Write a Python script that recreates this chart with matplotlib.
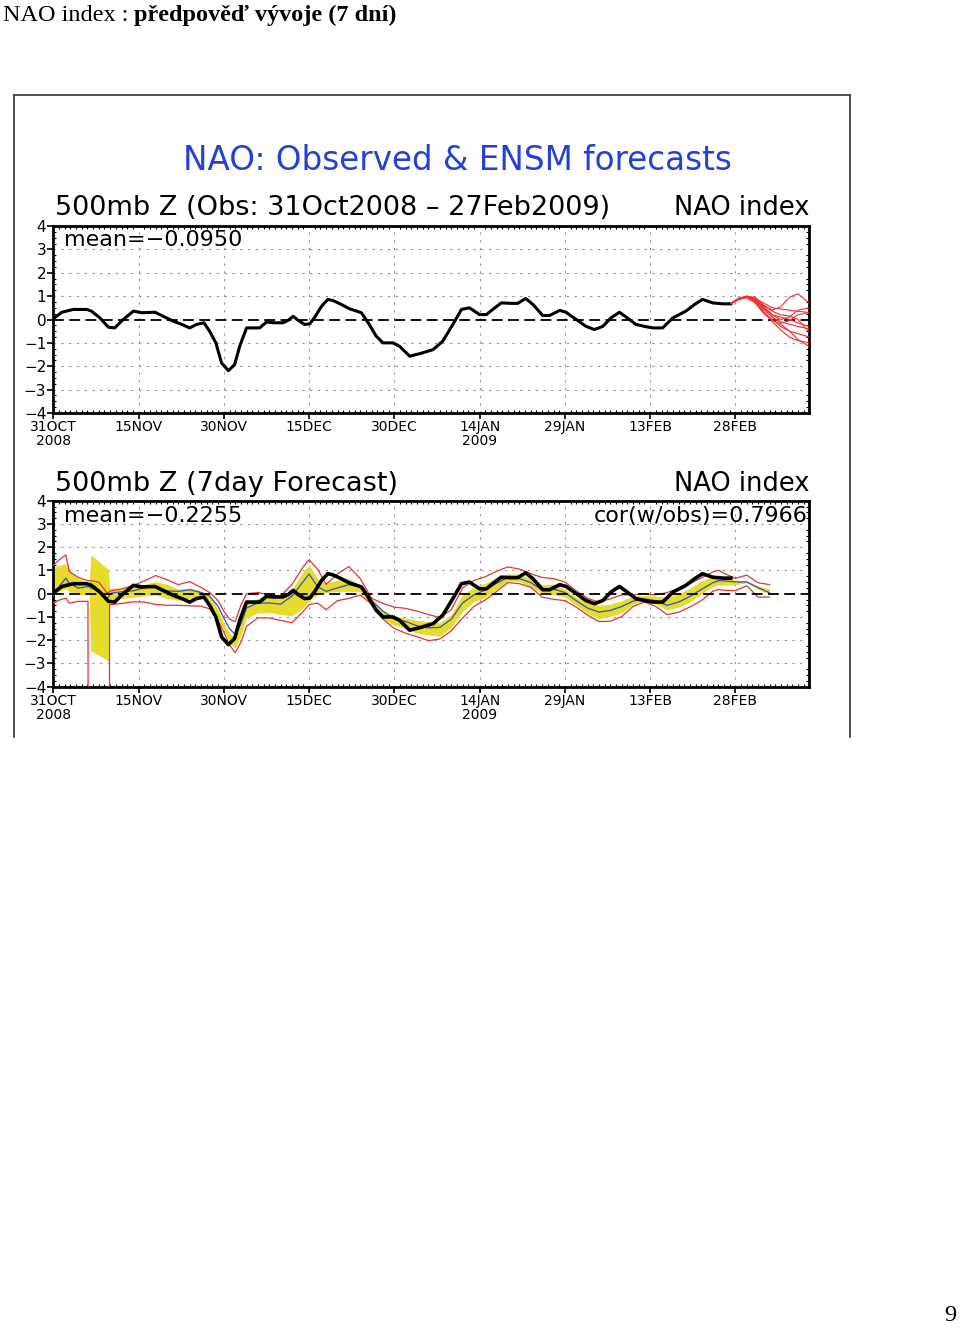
import numpy as np
import matplotlib.pyplot as plt
from matplotlib.lines import Line2D

W, H = 960, 1328

# observed NAO index (days since 31 Oct 2008)
obs_day = [0, 1.5, 3.5, 5.9, 6.7, 8.2, 9.7, 10.8, 12.3, 14.1, 15.5, 17.9, 19.3, 21.1, 22.6,
           24.0, 25.2, 26.5, 27.5, 28.6, 29.6, 30.8, 31.9, 32.8, 34.0, 35.1, 36.3, 37.5, 38.7,
           40.4, 41.3, 42.2, 43.1, 44.2, 45.1, 46.0, 47.2, 48.3, 49.2, 50.7, 52.1, 53.0, 54.2,
           55.4, 56.8, 58.0, 59.7, 60.9, 62.7, 63.8, 64.5, 66.8, 68.5, 70.3, 71.8, 73.2, 75.0,
           76.2, 77.3, 78.8, 80.6, 81.7, 83.1, 84.4, 86.1, 87.3, 89.1, 90.2, 92.0, 93.7, 95.2,
           96.7, 98.1, 99.6, 100.8, 102.5, 104.3, 105.5, 107.2, 109.0, 111.3, 112.8, 114.2,
           116.0, 117.8, 119.2]
obs_val = [0.03, 0.31, 0.43, 0.43, 0.36, 0.07, -0.33, -0.36, 0.0, 0.36, 0.29, 0.31, 0.14, -0.07, -0.21,
           -0.36, -0.21, -0.14, -0.5, -1.0, -1.86, -2.19, -1.93, -1.14, -0.36, -0.36, -0.36, -0.11, -0.14,
           -0.14, -0.04, 0.14, -0.04, -0.21, -0.19, 0.1, 0.57, 0.86, 0.81, 0.64, 0.46, 0.39, 0.29,
           -0.14, -0.71, -1.0, -1.0, -1.14, -1.57, -1.5, -1.46, -1.29, -0.93, -0.21, 0.43, 0.5, 0.21,
           0.21, 0.43, 0.71, 0.69, 0.69, 0.9, 0.64, 0.17, 0.17, 0.39, 0.31, 0.0, -0.29, -0.43,
           -0.29, 0.07, 0.31, 0.1, -0.21, -0.31, -0.36, -0.36, 0.07, 0.36, 0.64, 0.86,
           0.71, 0.67, 0.67]

# ensemble forecast members after 27 Feb (top panel)
ens_day = [119.2, 120.5, 122, 123.5, 125, 126.5, 128, 129.5, 131, 133]
ens_members = [
    [0.68, 0.90, 0.98, 0.95, 0.60, 0.40, 0.55, 0.95, 1.10, 0.70],
    [0.68, 0.88, 1.00, 0.90, 0.70, 0.50, 0.45, 0.40, 0.35, 0.30],
    [0.68, 0.85, 0.95, 0.85, 0.50, 0.20, 0.00, 0.10, 0.40, 0.50],
    [0.68, 0.86, 0.97, 0.80, 0.45, 0.10, -0.10, -0.20, -0.30, -0.40],
    [0.68, 0.87, 0.95, 0.75, 0.30, 0.00, -0.30, -0.50, -0.60, -0.75],
    [0.68, 0.90, 1.00, 0.80, 0.35, -0.10, -0.45, -0.75, -0.90, -1.00],
    [0.68, 0.88, 0.93, 0.70, 0.25, -0.05, -0.20, -0.50, -0.85, -1.15],
    [0.68, 0.85, 0.97, 0.85, 0.55, 0.20, 0.10, 0.00, -0.15, -0.30],
    [0.68, 0.88, 1.00, 0.90, 0.60, 0.35, 0.20, 0.15, 0.00, -0.55],
    [0.68, 0.86, 0.98, 0.85, 0.45, 0.10, -0.15, -0.05, 0.20, 0.30],
]

# 7-day forecast (bottom panel): ensemble max/min, spread band, mean
fc_day = [0, 1, 2.2, 2.8, 4.4, 6.1, 6.3, 6.6, 8, 9.4, 9.7, 9.9, 10.3, 12, 14, 16, 18, 20,
          22, 24, 26, 27.5, 29, 30, 31, 32, 33, 34, 36, 38, 40, 42, 44, 45,
          46.5, 48, 50, 52, 54, 56, 58, 60, 62, 64, 66, 68, 70,
          72, 74, 76, 78, 80, 82, 84, 86, 88, 90, 92, 94, 96, 98, 100,
          102, 104, 106, 108, 110, 112, 114, 116, 117, 118, 120, 122, 124, 126]
fc_max = [1.22, 1.45, 1.67, 0.96, 0.70, 0.56, 0.56, 0.56, 0.50, 0.05, 0.05, 0.10, 0.13, 0.20, 0.35, 0.55, 0.78, 0.60,
          0.39, 0.52, 0.27, 0.05, -0.30, -0.75, -1.10, -1.20, -0.50, 0.00, 0.05, -0.05, -0.10, 0.40, 1.17, 1.46,
          1.05, 0.40, 0.85, 1.17, 0.65, -0.20, -0.42, -0.58, -0.63, -0.75, -0.90, -1.02, -0.70,
          0.25, 0.57, 0.73, 0.97, 1.15, 1.06, 0.86, 0.70, 0.65, 0.50, 0.12, -0.20, -0.36, -0.22, -0.05,
          -0.05, 0.00, -0.05, 0.05, 0.22, 0.43, 0.68, 0.93, 1.01, 0.88, 0.66, 0.80, 0.47, 0.39]
fc_min = [-0.40, -0.28, -0.19, -0.40, -0.33, -0.33, -40, -40, -40, -40, -40, -0.47, -0.47, -0.42, -0.35, -0.36, -0.46, -0.50,
          -0.50, -0.52, -0.54, -0.65, -1.15, -1.65, -2.20, -2.54, -2.10, -1.40, -1.04, -1.04, -1.15, -1.25, -0.75, -0.47,
          -0.40, -0.69, -0.30, -0.20, -0.06, -0.45, -1.10, -1.50, -1.70, -1.85, -2.02, -1.95, -1.60,
          -1.05, -0.55, -0.27, 0.10, 0.48, 0.43, 0.28, -0.15, -0.24, -0.30, -0.58, -0.92, -1.20, -1.18, -0.98,
          -0.55, -0.36, -0.55, -0.90, -0.80, -0.57, -0.30, 0.10, 0.18, 0.15, 0.13, 0.34, -0.15, -0.14]
fc_hi = [1.15, 1.20, 1.31, 0.96, 0.67, 0.46, 0.45, 1.67, 1.40, 1.10, 1.03, 0.22, 0.24, 0.24, 0.30, 0.40, 0.52, 0.40,
         0.20, 0.24, 0.12, -0.10, -0.70, -1.25, -1.70, -1.90, -1.10, -0.40, -0.20, -0.15, -0.20, 0.20, 0.96, 1.24,
         0.65, 0.45, 0.58, 0.67, 0.37, -0.20, -0.75, -0.95, -1.05, -1.15, -1.20, -1.25, -0.90,
         -0.05, 0.28, 0.45, 0.68, 0.86, 0.84, 0.63, 0.38, 0.42, 0.20, -0.15, -0.34, -0.50, -0.45, -0.30,
         -0.10, -0.07, -0.12, -0.14, 0.00, 0.23, 0.54, 0.75, 0.80, 0.70, 0.58, 0.56, 0.33, 0.22]
fc_lo = [-0.05, 0.10, 0.22, 0.10, -0.04, -0.04, -0.04, -2.47, -2.65, -2.85, -2.93, -0.26, -0.26, -0.20, -0.15, -0.10, -0.06, -0.20,
         -0.28, -0.20, -0.19, -0.35, -1.10, -1.55, -2.10, -2.35, -1.80, -1.04, -0.83, -0.80, -0.90, -0.95, -0.60, -0.30,
         -0.04, 0.05, 0.10, 0.10, 0.08, -0.50, -1.10, -1.35, -1.50, -1.70, -1.78, -1.82, -1.45,
         -0.75, -0.35, -0.15, 0.20, 0.55, 0.52, 0.30, 0.00, -0.05, -0.15, -0.50, -0.85, -1.07, -0.98, -0.82,
         -0.45, -0.30, -0.45, -0.70, -0.58, -0.35, -0.02, 0.31, 0.38, 0.37, 0.38, 0.48, 0.18, 0.00]
fc_mean = [-0.10, 0.30, 0.67, 0.45, 0.24, 0.31, 0.30, 0.25, 0.10, -0.19, -0.15, -0.05, 0.03, 0.08, 0.12, 0.26, 0.30, 0.12,
           0.10, 0.17, 0.05, -0.10, -0.55, -1.05, -1.50, -1.76, -1.30, -0.61, -0.40, -0.40, -0.45, -0.10, 0.53, 0.85,
           0.30, 0.10, 0.25, 0.39, 0.30, -0.30, -0.75, -1.08, -1.20, -1.38, -1.47, -1.45, -1.10,
           -0.40, -0.05, 0.16, 0.45, 0.70, 0.65, 0.48, 0.16, 0.20, 0.05, -0.30, -0.62, -0.79, -0.72, -0.55,
           -0.32, -0.22, -0.30, -0.50, -0.36, -0.12, 0.18, 0.47, 0.56, 0.55, 0.51, 0.50, 0.26, 0.04]

tick_days = [0, 15, 30, 45, 60, 75, 90, 105, 120]
tick_labels = ["31OCT\n2008", "15NOV", "30NOV", "15DEC", "30DEC", "14JAN\n2009", "29JAN", "13FEB", "28FEB"]
y_ticks = [-4, -3, -2, -1, 0, 1, 2, 3, 4]
y_labels = ["\u22124", "\u22123", "\u22122", "\u22121", "0", "1", "2", "3", "4"]


def px(x, y):
    return x / W, 1 - y / H


def setup(ax):
    ax.set_xlim(0, 133)
    ax.set_ylim(-4, 4)
    ax.set_xticks(tick_days)
    ax.set_xticklabels(tick_labels, fontsize=10, linespacing=1.0)
    ax.set_yticks(y_ticks)
    ax.set_yticklabels(y_labels, fontsize=11)
    ax.set_xticks(np.arange(0, 134, 1), minor=True)
    ax.set_yticks(np.arange(-4, 4.01, 0.25), minor=True)
    ax.tick_params(which="major", direction="out", length=4, width=1.2, pad=1)
    ax.tick_params(which="minor", direction="in", length=2.5, width=0.8,
                   top=True, right=True, bottom=True, left=True)
    for s in ax.spines.values():
        s.set_linewidth(2)
    for y in [-3, -2, -1, 1, 2, 3]:
        ax.axhline(y, color="#909090", lw=0.8, ls=(0, (2, 5)), zorder=1)
    for d in tick_days[1:]:
        ax.axvline(d, color="#909090", lw=0.8, ls=(0, (2, 5)), zorder=1)
    ax.axhline(0, color="k", lw=1.3, ls=(0, (6, 3)), zorder=4)


fig = plt.figure(figsize=(W / 100, H / 100), dpi=100)

ax1 = fig.add_axes([53.3 / W, 1 - 413 / H, 756 / W, 187 / H])
setup(ax1)
ax1.plot(obs_day, obs_val, color="k", lw=2.2, zorder=5)
for m in ens_members:
    ax1.plot(ens_day, m, color="#f03030", lw=0.8, zorder=5)

ax2 = fig.add_axes([53.3 / W, 1 - 686.7 / H, 756 / W, 186 / H])
setup(ax2)
ax2.fill_between(fc_day, fc_lo, fc_hi, color="#e6dc2c", lw=0, zorder=2)
ax2.plot(fc_day, fc_max, color="#e03535", lw=0.9, zorder=3)
ax2.plot(fc_day, fc_min, color="#e03535", lw=0.9, zorder=3)
ax2.plot(fc_day, fc_mean, color="#3050c8", lw=0.9, zorder=3)
ax2.plot(obs_day, obs_val, color="k", lw=2.6, zorder=5)

# panel texts
fig.text(*px(457, 161), "NAO: Observed & ENSM forecasts", color="#2540d8",
         fontsize=23.5, ha="center", va="center")
fig.text(*px(55, 208), "500mb Z (Obs: 31Oct2008 \u2013 27Feb2009)", fontsize=19.5, va="center")
fig.text(*px(809, 208), "NAO index", fontsize=18.5, ha="right", va="center")
fig.text(*px(64, 240), "mean=\u22120.0950", fontsize=16, va="center")
fig.text(*px(55, 484), "500mb Z (7day Forecast)", fontsize=19.5, va="center")
fig.text(*px(809, 484), "NAO index", fontsize=18.5, ha="right", va="center")
fig.text(*px(64, 516), "mean=\u22120.2255", fontsize=16, va="center")
fig.text(*px(808, 516), "cor(w/obs)=0.7966", fontsize=16, ha="right", va="center")

# image frame (open at the bottom)
frame = dict(color="#333333", lw=1.2)
fig.add_artist(Line2D([14 / W, 850 / W], [1 - 95 / H, 1 - 95 / H], **frame))
fig.add_artist(Line2D([14 / W, 14 / W], [1 - 95 / H, 1 - 737 / H], **frame))
fig.add_artist(Line2D([850 / W, 850 / W], [1 - 95 / H, 1 - 737 / H], **frame))

# page heading and page number
t1 = fig.text(*px(3, 21), "NAO index :", family="Liberation Serif", fontsize=17.5, va="baseline")
fig.canvas.draw()
bb = t1.get_window_extent()
fig.text(bb.x1 / W + 5 / W, 1 - 21 / H, "p\u0159edpov\u011b\u010f v\u00fdvoje (7 dn\u00ed)",
         family="Liberation Serif", fontweight="bold", fontsize=17.5, va="baseline")
fig.text(*px(956, 1321), "9", family="Liberation Serif", fontsize=17.5, ha="right", va="baseline")

fig.savefig("out.png", dpi=100)
